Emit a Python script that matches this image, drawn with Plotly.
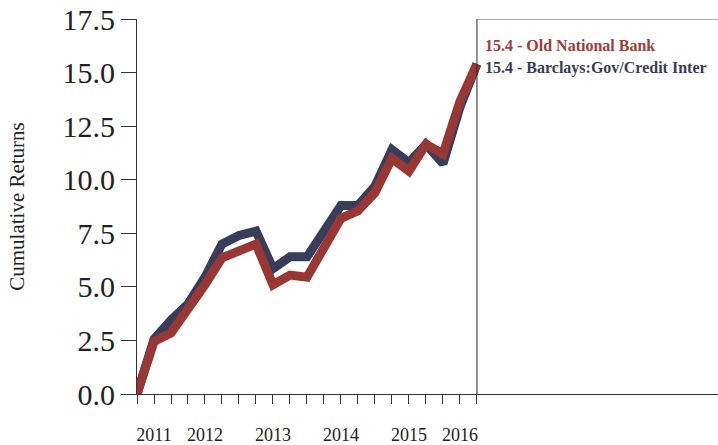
import plotly.graph_objects as go

# Quarterly observations, indexed 0..20 along the x axis
quarters = list(range(21))
old_national = [0.0, 2.45, 2.85, 3.9, 5.1, 6.35, 6.65, 7.0, 5.1, 5.55, 5.45,
                6.9, 8.2, 8.55, 9.4, 11.0, 10.4, 11.65, 11.2, 13.65, 15.4]
barclays = [0.0, 2.55, 3.45, 4.2, 5.45, 7.0, 7.4, 7.6, 5.85, 6.4, 6.4,
            7.65, 8.8, 8.8, 9.7, 11.4, 10.8, 11.65, 10.75, 13.4, 15.4]

year_labels = ["2011", "2012", "2013", "2014", "2015", "2016"]
year_label_pos = [1, 4, 8, 12, 16, 19]
year_tick_pos = [0, 2, 6, 10, 14, 18, 20]
y_ticks = [0, 2.5, 5, 7.5, 10, 12.5, 15, 17.5]

legend_text = ["15.4 - Old National Bank", "15.4 - Barclays:Gov/Credit Inter"]

RED = "#993735"
NAVY = "#383d5b"
SERIF = "Liberation Serif, Times New Roman, serif"
X_MAX = 34.18

fig = go.Figure()
fig.add_trace(go.Scatter(x=quarters, y=barclays, mode="lines",
                         line=dict(color=NAVY, width=9), hoverinfo="skip"))
fig.add_trace(go.Scatter(x=quarters, y=old_national, mode="lines",
                         line=dict(color=RED, width=9), hoverinfo="skip"))
# invisible trace to carry the label axis
fig.add_trace(go.Scatter(x=[0], y=[0], xaxis="x2", mode="markers",
                         marker=dict(opacity=0), hoverinfo="skip"))

fig.update_layout(
    width=718, height=445,
    margin=dict(l=137, r=0, t=19, b=45),
    paper_bgcolor="white", plot_bgcolor="white",
    showlegend=False,
    font=dict(family=SERIF, color="#222"),
    xaxis=dict(
        range=[0, X_MAX], showgrid=False, zeroline=False,
        showline=True, linecolor="#333", linewidth=1,
        tickmode="array", tickvals=year_tick_pos,
        ticktext=[""] * len(year_tick_pos),
        ticks="outside", ticklen=17, tickcolor="#333", tickwidth=1,
        minor=dict(tickmode="array", tickvals=quarters, ticks="outside",
                   ticklen=9, tickcolor="#333", tickwidth=1),
    ),
    xaxis2=dict(
        overlaying="x", matches="x", side="bottom", anchor="y",
        range=[0, X_MAX], showgrid=False, zeroline=False, showline=False,
        tickmode="array", tickvals=year_label_pos, ticktext=year_labels,
        ticks="outside", ticklen=24, tickcolor="rgba(0,0,0,0)",
        tickfont=dict(family=SERIF, size=18, color="#222"),
    ),
    yaxis=dict(
        range=[0, 17.5], showgrid=False, zeroline=False,
        showline=True, linecolor="#333", linewidth=1,
        tickmode="array", tickvals=y_ticks,
        ticktext=[f"{v:.1f}" for v in y_ticks],
        ticks="outside", ticklen=15, tickcolor="#333",
        tickfont=dict(family=SERIF, size=30, color="#222"),
        title=dict(text="Cumulative Returns", standoff=32,
                   font=dict(family=SERIF, size=21, color="#222")),
    ),
)

# frame around the label panel on the right
fig.add_shape(type="line", xref="x", yref="y", x0=20, x1=20, y0=0, y1=17.5,
              line=dict(color="#222", width=1))
fig.add_shape(type="line", xref="x", yref="y", x0=20, x1=X_MAX, y0=17.5, y1=17.5,
              line=dict(color="#666", width=1))

fig.add_annotation(x=20, y=old_national[-1], xref="x", yref="y",
                   text=f"<b>{legend_text[0]}</b>", showarrow=False,
                   xanchor="left", yanchor="middle", xshift=6, yshift=19,
                   font=dict(family=SERIF, size=16, color="#a03c3a"))
fig.add_annotation(x=20, y=barclays[-1], xref="x", yref="y",
                   text=f"<b>{legend_text[1]}</b>", showarrow=False,
                   xanchor="left", yanchor="middle", xshift=6, yshift=-4,
                   font=dict(family=SERIF, size=16, color=NAVY))

fig.write_html("out.html")
